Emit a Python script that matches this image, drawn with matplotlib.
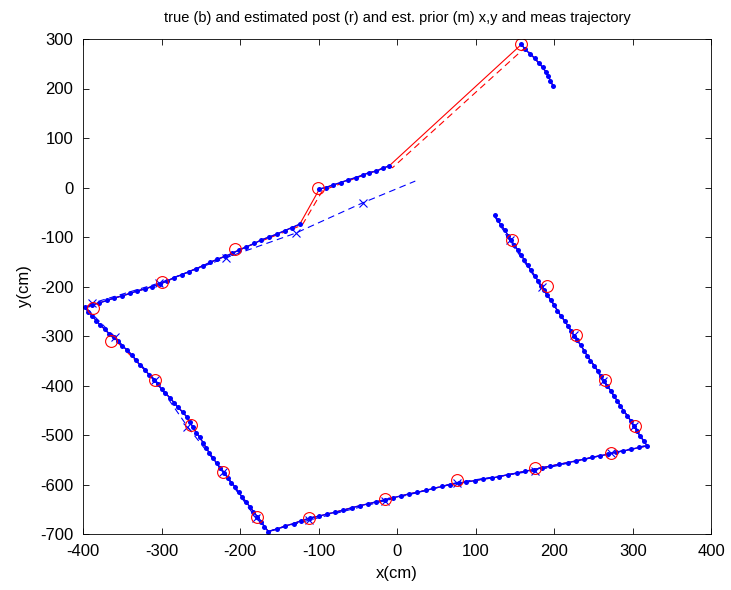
import numpy as np
import matplotlib.pyplot as plt

plt.rcParams['font.family'] = ['Liberation Sans', 'DejaVu Sans']
plt.rcParams['axes.unicode_minus'] = False

# true trajectory (cm), one list per stretch between jumps
true_a_x = [124, 128, 132, 137, 141, 145, 149, 154, 158, 162, 166, 170, 175, 179, 183, 187,
            191, 196, 200, 204, 208, 213, 217, 221, 225, 229, 234, 238, 242, 246, 251, 255,
            259, 263, 267, 272, 276, 280, 284, 288, 293, 297, 301, 305, 309, 314, 318,
            308, 298, 288, 278, 268, 258, 248, 238, 228, 217, 206, 195, 184, 174, 163, 152,
            141, 130, 120, 109, 99, 88, 78, 67, 57, 46, 36, 25, 15, 5, -6, -16, -27, -37,
            -48, -58, -69, -79, -90, -100, -111, -122, -132, -143, -153, -164,
            -169, -173, -178, -183, -187, -192, -197, -202, -206, -211, -216, -220, -225,
            -230, -234, -239, -243, -247, -251, -256, -260, -264, -268, -273, -279, -284,
            -289, -295, -300, -305, -310, -316, -321, -327, -333, -338, -344, -350, -355,
            -361, -367, -372, -378, -383, -388, -393, -398,
            -388, -379, -369, -360, -350, -340, -331, -321, -312, -302, -293, -284, -274,
            -265, -256, -247, -238, -229, -219, -210, -201, -192, -182, -173, -163, -153,
            -143, -134, -124]
true_a_y = [-56, -66, -76, -86, -97, -107, -117, -127, -137, -147, -157, -167, -178, -188,
            -198, -208, -218, -228, -238, -249, -259, -269, -279, -289, -299, -309, -319,
            -330, -340, -350, -360, -370, -380, -390, -400, -411, -421, -431, -441, -451,
            -461, -471, -481, -492, -502, -512, -522,
            -525, -529, -532, -535, -539, -542, -545, -549, -552, -556, -559, -563, -566,
            -570, -573, -577, -580, -584, -587, -589, -592, -595, -597, -600, -604, -608,
            -612, -616, -619, -623, -627, -631, -635, -639, -643, -647, -652, -656, -660,
            -664, -668, -673, -679, -684, -690, -695,
            -685, -675, -665, -655, -646, -636, -626, -616, -606, -596, -586, -576, -567,
            -557, -547, -537, -526, -516, -505, -495, -484, -474, -463, -454, -444, -435,
            -425, -416, -407, -397, -388, -378, -369, -359, -348, -338, -328, -320, -311,
            -303, -295, -286, -278, -269, -260, -251, -242,
            -237, -233, -228, -223, -219, -214, -209, -205, -200, -195, -189, -182, -176,
            -170, -164, -158, -151, -145, -139, -133, -126, -120, -113, -106, -100, -94,
            -87, -81, -74]
true_b_x = [-99, -91, -82, -72, -63, -53, -44, -36, -27, -18, -10]
true_b_y = [-3, 0, 5, 10, 15, 20, 25, 30, 33, 39, 44]
true_c_x = [158, 163, 169, 175, 180, 185, 189, 192, 195, 198]
true_c_y = [289, 279, 270, 261, 252, 243, 234, 226, 216, 206]

# est. prior (dashed red), mostly on top of the true path
prior_x = [124, 318, 228, 130, 67, -16, -111, -164, -239, -268, -321, -378, -398,
           -302, -192, -121, -95, -10, -6, 163, 175, 189, 192, 198]
prior_y = [-56, -522, -552, -584, -600, -631, -668, -695, -537, -463, -369, -278, -242,
           -195, -120, -76, -6, 44, 40, 283, 261, 234, 226, 206]

# measurements (red circles)
meas_x = [146, 191, 228, 264, 303, 272, 176, 76, -16, -112, -179, -222, -262, -308,
          -364, -387, -300, -206, -101, 158]
meas_y = [-106, -199, -297, -389, -482, -536, -567, -591, -630, -668, -665, -574, -480,
          -389, -311, -244, -190, -124, 0, 289]

# blue dashed trajectory with x marks
dash_x = [123, 143, 184, 225, 262, 302, 317, 272, 176, 76, -16, -112, -163, -180, -222,
          -267, -308, -359, -396, -389, -303, -218, -129, -44, 23]
dash_y = [-56, -107, -202, -297, -390, -482, -521, -537, -572, -596, -633, -672, -694,
          -667, -574, -483, -389, -303, -243, -234, -193, -142, -92, -31, 13]
xmark_x = [143, 184, 225, 262, 302, 272, 176, 76, -16, -112, -180, -222, -267, -308,
           -359, -389, -303, -218, -129, -44]
xmark_y = [-107, -202, -297, -390, -482, -537, -572, -596, -633, -672, -667, -574, -483,
           -389, -303, -234, -193, -142, -92, -31]

fig = plt.figure(figsize=(7.31, 5.90), dpi=100)
ax = fig.add_axes([0.1135, 0.0949, 0.8598, 0.839])

# post estimate follows the truth and bridges the jumps
post_x = true_a_x + true_b_x + true_c_x
post_y = true_a_y + true_b_y + true_c_y
ax.plot(post_x, post_y, '-', color='red', lw=0.8)
ax.plot(prior_x, prior_y, '--', color='red', lw=0.8, dashes=(6, 4))

ax.plot(dash_x, dash_y, '--', color='blue', lw=0.8, dashes=(6, 4))
ax.plot(xmark_x, xmark_y, 'x', color='blue', ms=6, mew=0.8)

for sx, sy in [(true_a_x, true_a_y), (true_b_x, true_b_y), (true_c_x, true_c_y)]:
    ax.plot(sx, sy, '-', color='blue', lw=1.0, marker='o', ms=3.6, mec='none')

ax.plot(meas_x, meas_y, 'o', mfc='none', mec='red', ms=8.5, mew=0.8)

ax.set_xlim(-400, 400)
ax.set_ylim(-700, 300)
ax.set_xticks(np.arange(-400, 401, 100))
ax.set_yticks(np.arange(-700, 301, 100))
ax.tick_params(direction='in', length=4.5, width=0.6, top=True, right=True,
               labelsize=12, pad=7)
for s in ax.spines.values():
    s.set_linewidth(0.6)
ax.set_xlabel('x(cm)', fontsize=12, labelpad=5)
ax.set_ylabel('y(cm)', fontsize=12, labelpad=6)
ax.set_title('true (b) and estimated post (r) and est. prior (m) x,y and meas trajectory',
             fontsize=10.5, pad=12)

fig.savefig('out.png', dpi=100)
